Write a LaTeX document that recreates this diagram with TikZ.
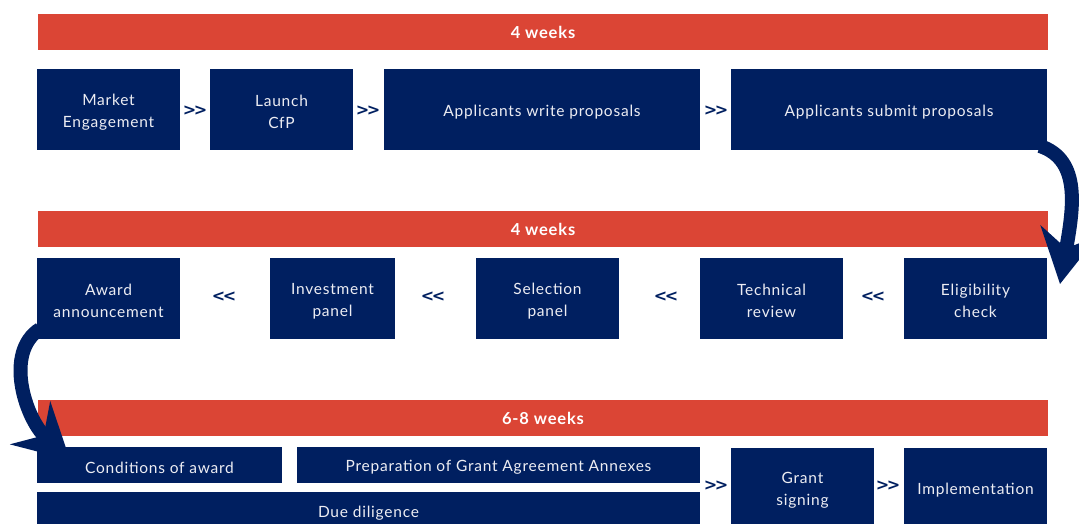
\documentclass[tikz,border=0pt]{standalone}
\usepackage{fontspec}
\setmainfont{Lato}
\newfontfamily\boxfont{Lato}[LetterSpace=5]
\newfontfamily\chevfont{DejaVu Sans}
\usetikzlibrary{arrows.meta}
\definecolor{navy}{HTML}{001F60}
\definecolor{brick}{HTML}{DB4535}
\definecolor{txt}{HTML}{EDEDF3}
\newcommand{\gtgt}{>\kern-2.5pt>}
\newcommand{\ltlt}{<\kern-2.5pt<}
\tikzset{
  bar/.style={fill=brick, draw=none, minimum width=1010pt, minimum height=36pt, inner sep=0pt,
    text=white, font=\boxfont\fontsize{16.5}{18}\selectfont\bfseries},
  box/.style={fill=navy, draw=none, inner sep=0pt},
  boxtext/.style={text=txt, align=center, inner sep=0pt, yshift=-2.5pt,
    font=\boxfont\fontsize{15.5}{22}\selectfont},
  chev/.style={text=navy, font=\chevfont\fontsize{16}{18}\selectfont\bfseries, inner sep=0pt},
  curvearrow/.style={draw=navy, line width=14pt, -{Stealth[length=54pt, width=58pt, inset=18pt]}}
}
\begin{document}
\begin{tikzpicture}[x=1pt, y=-1pt]
\useasboundingbox (0,0) rectangle (1079,523);
% row 1
\node[bar] (bar1) at (543,32) {4 weeks};
\node[box, minimum width=143pt, minimum height=81pt, label={[boxtext]center:Market\\Engagement}] (me) at (108.5,109.5) {};
\node[box, minimum width=143pt, minimum height=81pt, label={[boxtext]center:Launch\\CfP}] (cfp) at (281.5,109.5) {};
\node[box, minimum width=316pt, minimum height=81pt, label={[boxtext]center:Applicants write proposals}] (write) at (542,109.5) {};
\node[box, minimum width=316pt, minimum height=81pt, label={[boxtext]center:Applicants submit proposals}] (submit) at (889,109.5) {};
\node[chev] (c1) at (195,111) {\gtgt};
\node[chev] (c2) at (368,111) {\gtgt};
\node[chev] (c3) at (716,111) {\gtgt};
% row 2
\node[bar] (bar2) at (543,229) {4 weeks};
\node[box, minimum width=143pt, minimum height=81pt, label={[boxtext]center:Award\\announcement}] (award) at (108.5,298.5) {};
\node[box, minimum width=125pt, minimum height=81pt, label={[boxtext]center:Investment\\panel}] (invest) at (332.5,298.5) {};
\node[box, minimum width=143pt, minimum height=81pt, label={[boxtext]center:Selection\\panel}] (select) at (547.5,298.5) {};
\node[box, minimum width=143pt, minimum height=81pt, label={[boxtext]center:Technical\\review}] (tech) at (771.5,298.5) {};
\node[box, minimum width=143pt, minimum height=81pt, label={[boxtext]center:Eligibility\\check}] (elig) at (975.5,298.5) {};
\node[chev] (c4) at (224,297) {\ltlt};
\node[chev] (c5) at (433,297) {\ltlt};
\node[chev] (c6) at (666,297) {\ltlt};
\node[chev] (c7) at (873,297) {\ltlt};
% row 3
\node[bar] (bar3) at (543,418) {6-8 weeks};
\node[box, minimum width=245pt, minimum height=36pt, label={[boxtext]center:Conditions of award}] (cond) at (159.5,465) {};
\node[box, minimum width=403pt, minimum height=36pt, label={[boxtext]center:Preparation of Grant Agreement Annexes}] (prep) at (498.5,465) {};
\node[box, minimum width=663pt, minimum height=38pt, label={[boxtext]center:Due diligence}] (due) at (368.5,511) {};
\node[box, minimum width=143pt, minimum height=80pt, label={[boxtext]center:Grant\\signing}] (grant) at (802.5,488) {};
\node[box, minimum width=143pt, minimum height=80pt, label={[boxtext]center:Implementation}] (impl) at (975.5,488) {};
\node[chev] (c8) at (716,486) {\gtgt};
\node[chev] (c9) at (888,486) {\gtgt};
% curved arrows
\coordinate (s1) at (1040,146);
\coordinate (t1) at (1060,284);
\coordinate (s2) at (40,329);
\coordinate (t2) at (70,460);
\draw[curvearrow] (s1) .. controls (1082,160) and (1073,210) .. (t1);
\draw[curvearrow] (s2) .. controls (4,352) and (25,418) .. (t2);
\end{tikzpicture}
\end{document}
